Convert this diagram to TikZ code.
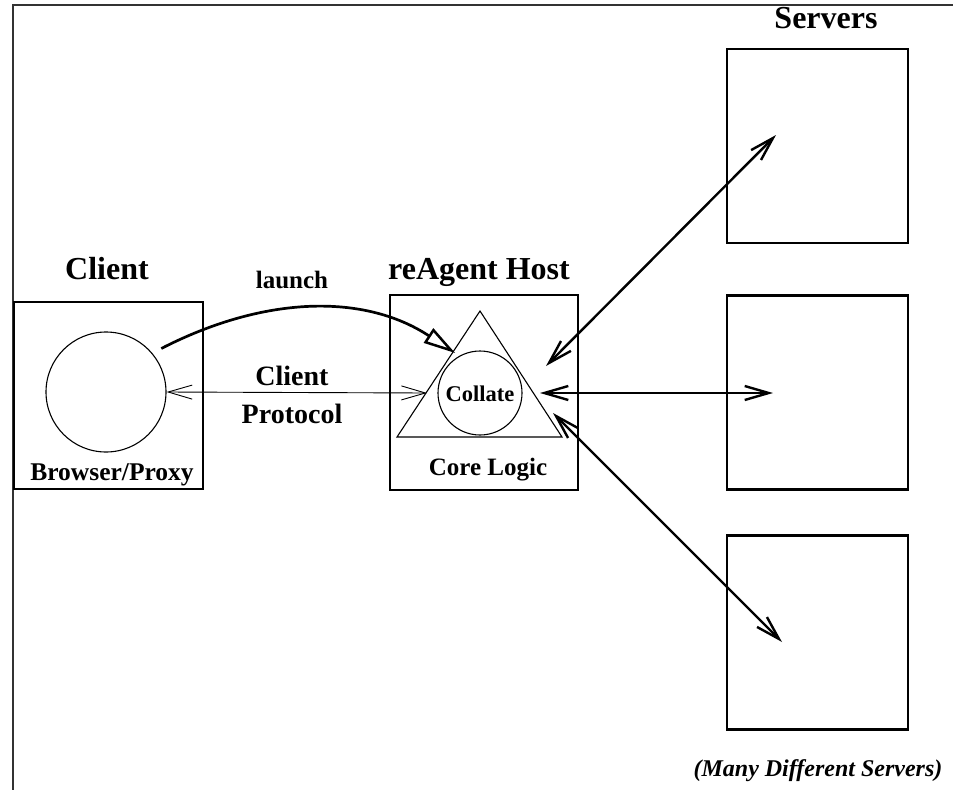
\documentclass[tikz,border=0pt]{standalone}
\usepackage{fontspec}
\setmainfont{Liberation Serif}
\usetikzlibrary{arrows.meta,positioning}

\begin{document}
\begin{tikzpicture}[x=1pt,y=-1pt,>={Straight Barb[length=24pt,width=14pt]},
                    box/.style={draw,line width=2.5pt,inner sep=0pt},
                    ring/.style={circle,draw,line width=1.1pt,inner sep=0pt},
                    title/.style={anchor=base,font=\fontsize{32}{32}\selectfont\bfseries},
                    lbl/.style={anchor=base,font=\fontsize{#1}{#1}\selectfont\bfseries},
                    srv/.style={<->,line width=2.4pt}]
  \useasboundingbox (0,0) rectangle (953,790);
  \draw[black!80,line width=1.2pt] (953,5) -- (13,5) -- (13,790);

  % boxes
  \node[box,minimum width=189pt,minimum height=187pt] (clientbox) at (108.5,395.5) {};
  \node[box,minimum width=188pt,minimum height=195pt] (hostbox)   at (484,392.5) {};
  \foreach \n/\y in {1/146,2/392.5,3/632.5}
    \node[box,minimum width=181pt,minimum height=194pt] (server\n) at (817.5,\y) {};

  % inside the boxes
  \node[ring,minimum size=120pt] (browser) at (106,392) {};
  \draw[line width=1.1pt] (480,311) -- (397,437) -- (562,437) -- cycle;
  \node[ring,minimum size=84pt] (collate) at (480,393) {};
  \node[lbl=22.5] at (480,401) {Collate};
  \node[lbl=25] at (488,475) {Core Logic};
  \node[lbl=25.5] at (112,480) {Browser/Proxy};

  % titles
  \node[title] (clientlbl) at (107,279) {Client};
  \node[title] (hostlbl)   at (479,279) {reAgent Host};
  \node[title] (serverlbl) at (826,28)  {Servers};
  \node[anchor=base,font=\fontsize{24}{24}\selectfont\bfseries\itshape] (many) at (818,776)
    {(Many Different Servers)};

  % client side
  \draw[line width=2.7pt,-{Triangle[open,length=32pt,width=17pt,line width=2.5pt]},
        shorten <=10pt,shorten >=5pt]
    (browser.40) .. controls +(111,-57) and +(-96,-63) .. (collate.119);
  \node[lbl=25] (launch) at (292,288) {launch};
  \draw[<->,line width=0.9pt] (browser.east) -- (427,393);
  \node[lbl=28] at (292,385) {Client};
  \node[lbl=28] at (292,423) {Protocol};

  % server side
  \coordinate (h1) at (546,366); \coordinate (s1) at (776,135);
  \coordinate (h2) at (540,393); \coordinate (s2) at (773,393);
  \coordinate (h3) at (553,413); \coordinate (s3) at (782,642);
  \foreach \n in {1,2,3}
    \draw[srv] (h\n) -- (s\n);
\end{tikzpicture}
\end{document}
